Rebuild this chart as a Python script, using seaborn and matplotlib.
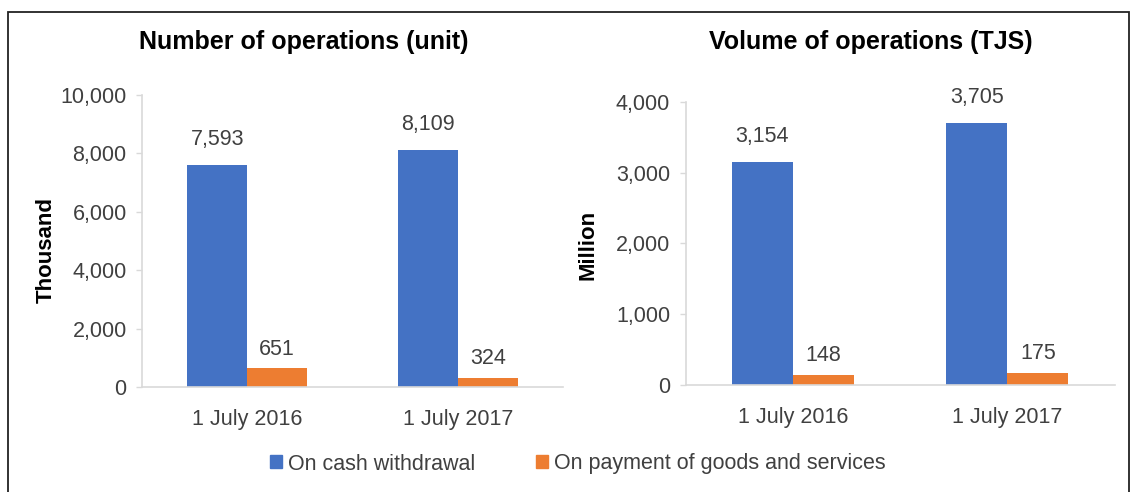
import numpy as np
import pandas as pd
import matplotlib.pyplot as plt
import seaborn as sns
from matplotlib.ticker import FuncFormatter

# data
dates = ["1 July 2016", "1 July 2017"]
series = ["On cash withdrawal", "On payment of goods and services"]
count_cash = [7593, 8109]
count_pay = [651, 324]
volume_cash = [3154, 3705]
volume_pay = [148, 175]

colors = ["#4472C4", "#ED7D31"]

df_count = pd.DataFrame({
    "date": dates * 2,
    "type": [series[0]] * 2 + [series[1]] * 2,
    "value": count_cash + count_pay,
})
df_volume = pd.DataFrame({
    "date": dates * 2,
    "type": [series[0]] * 2 + [series[1]] * 2,
    "value": volume_cash + volume_pay,
})

sns.set_style("white")
plt.rcParams["font.family"] = ["Liberation Sans", "DejaVu Sans"]

W, H = 1130, 492
fig = plt.figure(figsize=(W / 100, H / 100), dpi=100)

def px_axes(x0, x1, ytop, ybot):
    return fig.add_axes([x0 / W, 1 - ybot / H, (x1 - x0) / W, (ybot - ytop) / H])

ax1 = px_axes(142, 563, 95, 387)
ax2 = px_axes(685.5, 1114.5, 102, 385)

panels = [
    (ax1, df_count, 10000, 2000, "Thousand", "Number of operations (unit)", 304, (-0.228, 0.47)),
    (ax2, df_volume, 4000, 1000, "Million", "Volume of operations (TJS)", 871, (-0.227, 0.495)),
]

for ax, d, ymax, step, ylab, title, tx, lab_xy in panels:
    sns.barplot(data=d, x="date", y="value", hue="type", palette=colors,
                width=0.57, linewidth=0, saturation=1, ax=ax, legend=False)
    ax.set_xlim(-0.5, 1.5)
    ax.set_ylim(0, ymax)
    ax.set_yticks(np.arange(0, ymax + 1, step))
    ax.yaxis.set_major_formatter(FuncFormatter(lambda v, _: f"{v:,.0f}"))
    for sp in ["top", "right"]:
        ax.spines[sp].set_visible(False)
    for sp in ["left", "bottom"]:
        ax.spines[sp].set_color("#D9D9D9")
        ax.spines[sp].set_linewidth(1.2)
    ax.tick_params(axis="y", length=4, width=1, color="#D9D9D9", pad=7,
                   labelsize=15.5, labelcolor="#404040", left=True)
    ax.tick_params(axis="x", length=0, pad=16, labelsize=15.5, labelcolor="#404040")
    ax.set_xlabel("")
    ax.set_ylabel(ylab, fontsize=16, fontweight="bold", color="#000000")
    ax.yaxis.set_label_coords(*lab_xy)
    ax.yaxis.label.set_va("center")
    for cont, pad in zip(ax.containers, [11, 6]):
        ax.bar_label(cont, fmt="{:,.0f}", padding=pad, fontsize=15.5, color="#404040")
    fig.text(tx / W, 1 - 42 / H, title, ha="center", va="center",
             fontsize=18, fontweight="bold", color="#000000")

handles = [plt.Rectangle((0, 0), 1, 1, color=c) for c in colors]
fig.legend(handles, series, loc="center", bbox_to_anchor=(578 / W, 1 - 464 / H),
           ncol=2, frameon=False, fontsize=15.5, handlelength=0.55, handleheight=0.55,
           handletextpad=0.3, columnspacing=2.8, labelcolor="#404040")

# outer frame
fig.patches.append(plt.Rectangle((7.5 / W, -0.05), (1129 - 7.5) / W, 1.05 - 12 / H,
                                 transform=fig.transFigure, fill=False,
                                 edgecolor="#222222", linewidth=1.3))

fig.savefig("out.png", dpi=100)
